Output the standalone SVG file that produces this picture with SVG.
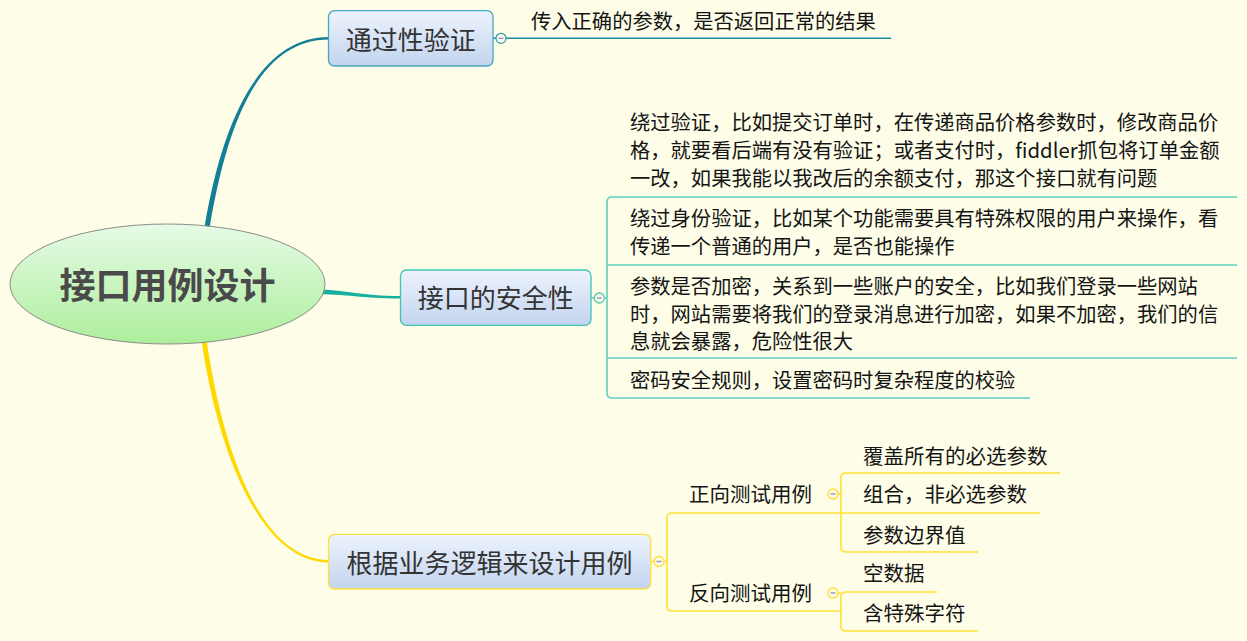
<svg xmlns="http://www.w3.org/2000/svg" width="1247" height="641" viewBox="0 0 1247 641">
<defs>
<linearGradient id="nodeGrad" x1="0" y1="0" x2="0" y2="1">
<stop offset="0" stop-color="#edf3fd"/>
<stop offset="1" stop-color="#c2d4ee"/>
</linearGradient>
<linearGradient id="rootGrad" x1="0" y1="0" x2="0" y2="1">
<stop offset="0" stop-color="#e6fbe6"/>
<stop offset="1" stop-color="#adee9c"/>
</linearGradient>
<style>
text { font-family: "Noto Sans CJK SC", "Noto Sans", sans-serif; }
.leaf { font-size: 20.3px; fill: #141414; }
.sub { font-size: 20.5px; fill: #141414; }
.topic { font-size: 26px; fill: #333333; text-anchor: middle; }
.root { font-size: 36px; font-weight: 700; fill: #4a4a4a; text-anchor: middle; }
.node { fill: url(#nodeGrad); stroke-width: 1.3; }
.fold { fill: #fdfde8; stroke-width: 1.3; }
.minus { stroke: #9a9ac4; stroke-width: 1.5; }
.lineT { fill: none; stroke: #1a8aa2; stroke-width: 1.6; }
.lineG { fill: none; stroke: #5fcfbf; stroke-width: 1.6; }
.lineY { fill: none; stroke: #ffe033; stroke-width: 1.6; }
</style>
</defs>
<rect width="1247" height="641" fill="#fdfde8"/>

<g id="connectors">
<path d="M204.5,227.6 C222.5,119.6 260,37 329,37 L329,39.5 C260,39.5 227.5,120.4 209.5,228.4 Z" fill="#137e95"/>
<path d="M310,289 C350,290 360,296 401,296 L401,298.5 C360,298.5 350,294 310,294 Z" fill="#16b09f"/>
<path d="M206.5,339.6 C222.5,449.6 260,560 329,560 L329,562.5 C260,562.5 217.5,450.4 201.5,340.4 Z" fill="#ffd800"/>
<path class="lineT" d="M493,38.3 H496 M506,38.3 H891"/>
<path class="lineG" d="M591,298 H594 M604,298 H607 M1237,197 H612 Q607,197 607,202 V393 Q607,398 612,398 H1030 M607,265 H1237 M607,358 H1237"/>
<path class="lineY" d="M651,561.5 H654 M664,561.5 H667 M1040,513 H672 Q667,513 667,518 V606 Q667,611 672,611 H841"/>
<path class="lineY" d="M838,494 H841 M1060,473 H846 Q841,473 841,478 V547 Q841,552 846,552 H978"/>
<path class="lineY" d="M838,593 H841 M937,592 H846 Q841,592 841,597 V626 Q841,631 846,631 H978"/>
</g>

<g id="root">
<ellipse cx="167.5" cy="284" rx="157.5" ry="60" fill="url(#rootGrad)" stroke="#8c8c8c" stroke-width="1"/>
<text class="root" x="167.5" y="299">接口用例设计</text>
</g>

<g id="node-pass">
<rect class="node" x="328.5" y="10.7" width="164.5" height="55.3" rx="6" stroke="#45a8c0"/>
<text class="topic" x="410.7" y="49.5">通过性验证</text>
<circle class="fold" cx="501" cy="38.3" r="5" stroke="#3a9ab2"/>
<line class="minus" x1="498.5" y1="38.3" x2="503.5" y2="38.3"/>
</g>
<g id="leaf-pass">
<text class="leaf" x="531" y="29">传入正确的参数，是否返回正常的结果</text>
</g>

<g id="node-security">
<rect class="node" x="400.5" y="270" width="190.5" height="55.3" rx="6" stroke="#3fc4b3"/>
<text class="topic" x="495.7" y="307.5">接口的安全性</text>
<circle class="fold" cx="599.3" cy="298" r="5" stroke="#4cc8b8"/>
<line class="minus" x1="596.8" y1="298" x2="601.8" y2="298"/>
</g>
<g id="leaf-sec-1">
<text class="leaf" x="630" y="130">绕过验证，比如提交订单时，在传递商品价格参数时，修改商品价</text>
<text class="leaf" x="630" y="158">格，就要看后端有没有验证；或者支付时，fiddler抓包将订单金额</text>
<text class="leaf" x="630" y="185.5">一改，如果我能以我改后的余额支付，那这个接口就有问题</text>
</g>
<g id="leaf-sec-2">
<text class="leaf" x="630" y="226">绕过身份验证，比如某个功能需要具有特殊权限的用户来操作，看</text>
<text class="leaf" x="630" y="254">传递一个普通的用户，是否也能操作</text>
</g>
<g id="leaf-sec-3">
<text class="leaf" x="630" y="294">参数是否加密，关系到一些账户的安全，比如我们登录一些网站</text>
<text class="leaf" x="630" y="321.5">时，网站需要将我们的登录消息进行加密，如果不加密，我们的信</text>
<text class="leaf" x="630" y="349">息就会暴露，危险性很大</text>
</g>
<g id="leaf-sec-4">
<text class="leaf" x="630" y="388">密码安全规则，设置密码时复杂程度的校验</text>
</g>

<g id="node-logic">
<rect class="node" x="328.5" y="534.3" width="322.2" height="54.7" rx="6" stroke="#ffe040"/>
<text class="topic" x="489.5" y="572.8">根据业务逻辑来设计用例</text>
<circle class="fold" cx="659" cy="561.5" r="5" stroke="#ffdd33"/>
<line class="minus" x1="656.5" y1="561.5" x2="661.5" y2="561.5"/>
</g>
<g id="node-positive">
<text class="sub" x="689" y="501.8">正向测试用例</text>
<circle class="fold" cx="833" cy="494" r="5" stroke="#ffdd33"/>
<line class="minus" x1="830.5" y1="494" x2="835.5" y2="494"/>
</g>
<g id="leaf-pos-1"><text class="sub" x="863" y="464">覆盖所有的必选参数</text></g>
<g id="leaf-pos-2"><text class="sub" x="863" y="502">组合，非必选参数</text></g>
<g id="leaf-pos-3"><text class="sub" x="863" y="543">参数边界值</text></g>
<g id="node-negative">
<text class="sub" x="689" y="601">反向测试用例</text>
<circle class="fold" cx="833" cy="593" r="5" stroke="#ffdd33"/>
<line class="minus" x1="830.5" y1="593" x2="835.5" y2="593"/>
</g>
<g id="leaf-neg-1"><text class="sub" x="863" y="581">空数据</text></g>
<g id="leaf-neg-2"><text class="sub" x="863" y="620.5">含特殊字符</text></g>
</svg>
